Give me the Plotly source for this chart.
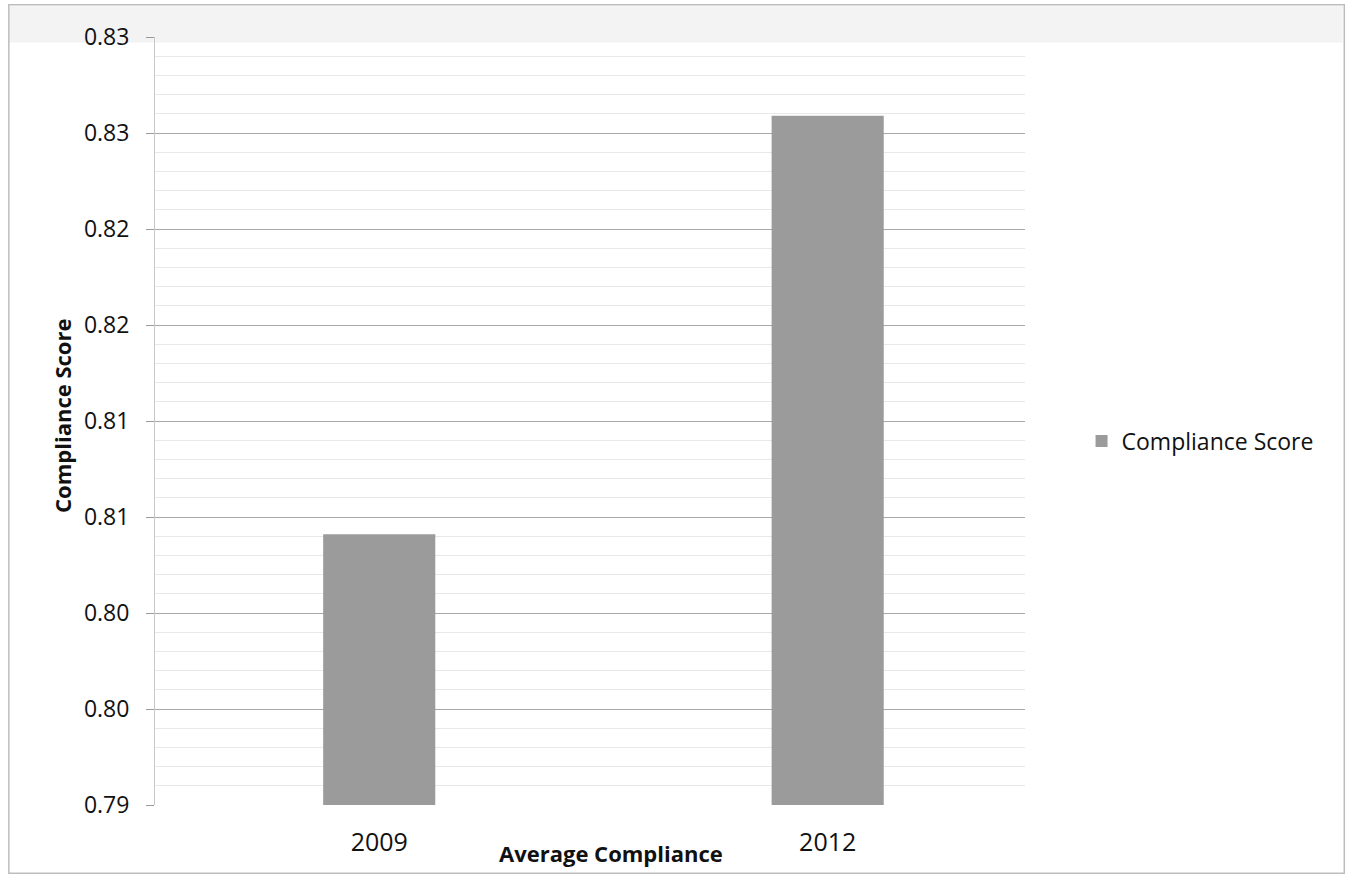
import plotly.graph_objects as go

# Average compliance score by survey year
years = ["2009", "2012"]
scores = [0.8041, 0.8259]
series_name = "Compliance Score"

# y-axis ticks every 0.005, labelled at two decimals
y_tick_vals = [0.79, 0.795, 0.80, 0.805, 0.81, 0.815, 0.82, 0.825, 0.83]
y_tick_text = ["0.79", "0.80", "0.80", "0.81", "0.81", "0.82", "0.82", "0.83", "0.83"]

FONT = "Open Sans"
INK = "#111111"
BAR_GREY = "#9b9b9b"

fig = go.Figure()
fig.add_trace(go.Bar(
    x=years,
    y=scores,
    name=series_name,
    marker=dict(color=BAR_GREY, line=dict(width=0)),
    width=0.25,
    showlegend=True,
))

fig.update_layout(
    width=1348,
    height=876,
    margin=dict(l=155, r=323, t=37, b=71),
    paper_bgcolor="white",
    plot_bgcolor="white",
    font=dict(family=FONT, size=22, color=INK),
    showlegend=True,
    legend=dict(
        x=1.065, y=0.474, xanchor="left", yanchor="middle",
        font=dict(family=FONT, size=23, color=INK),
        bgcolor="rgba(0,0,0,0)",
        itemwidth=30,
    ),
    xaxis=dict(
        type="category",
        range=[-0.5, 1.44],
        showgrid=False,
        showline=False,
        ticks="",
        ticklabelstandoff=20,
        tickfont=dict(family=FONT, size=25, color=INK),
        zeroline=False,
    ),
    yaxis=dict(
        range=[0.79, 0.83],
        tickvals=y_tick_vals,
        ticktext=y_tick_text,
        ticks="outside",
        ticklen=8,
        tickcolor="#9a9a9a",
        ticklabelstandoff=12,
        tickfont=dict(family=FONT, size=23, color=INK),
        showgrid=True,
        gridcolor="#a8a8a8",
        gridwidth=1,
        minor=dict(dtick=0.001, showgrid=True, gridcolor="#e8e8e8", gridwidth=1),
        showline=True,
        linecolor="#c8c8c8",
        linewidth=1,
        zeroline=False,
    ),
    shapes=[
        # faint grey band along the top edge
        dict(type="rect", xref="paper", yref="paper",
             x0=-0.168, x1=1.365, y0=0.993, y1=1.040,
             fillcolor="#f3f3f3", line=dict(width=0), layer="below"),
        # outer chart frame
        dict(type="rect", xref="paper", yref="paper",
             x0=-0.168, x1=1.367, y0=-0.089, y1=1.042,
             fillcolor="rgba(0,0,0,0)", line=dict(color="#bdbdbd", width=1.5)),
    ],
    annotations=[
        dict(text="<b>Compliance Score</b>", xref="paper", yref="paper",
             x=-0.107, y=0.5065, textangle=-90, showarrow=False,
             xanchor="center", yanchor="middle",
             font=dict(family=FONT, size=22, color=INK)),
        dict(text="<b>Average Compliance</b>", xref="paper", yref="paper",
             x=0.524, y=-0.0625, showarrow=False,
             xanchor="center", yanchor="middle",
             font=dict(family=FONT, size=22, color=INK)),
    ],
)

fig.write_html("out.html")
